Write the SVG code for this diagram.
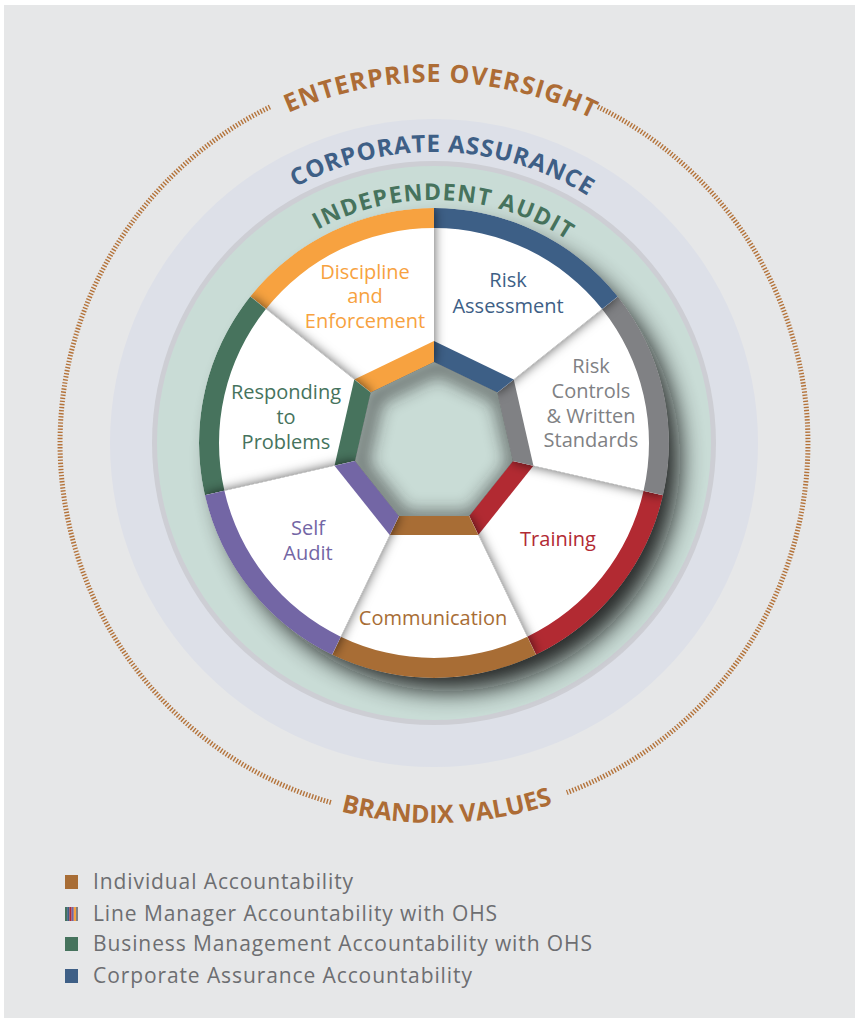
<svg xmlns="http://www.w3.org/2000/svg" xmlns:xlink="http://www.w3.org/1999/xlink" width="855" height="1018" viewBox="0 0 855 1018">
<style>
.arc{font-family:"Open Sans","Liberation Sans",sans-serif;font-weight:700}
.lbl{font-family:"Open Sans","Liberation Sans",sans-serif;font-size:20px;text-anchor:middle}
.leg{font-family:"Open Sans","Liberation Sans",sans-serif;font-size:21px;fill:#6d6e71;letter-spacing:0.9px}
.white{fill:#ffffff}
.dots{fill:none;stroke:#b4733a;stroke-width:5;stroke-dasharray:1.4 1.7}
</style>
<defs>
<filter id="wheelShadow" x="-30%" y="-30%" width="160%" height="160%"><feGaussianBlur stdDeviation="12"/></filter>
<filter id="segShadow" x="-30%" y="-30%" width="160%" height="160%"><feDropShadow dx="0" dy="0" stdDeviation="6" flood-color="#000" flood-opacity="0.65"/></filter>
<filter id="blur8" x="-30%" y="-30%" width="160%" height="160%"><feGaussianBlur stdDeviation="8"/></filter>
<clipPath id="wheelClip"><path clip-rule="evenodd" d="M199,443 A235,235 0 1 1 669,443 A235,235 0 1 1 199,443 Z M434,362 L497.33,392.5 L512.97,461.02 L469.15,515.98 L398.85,515.98 L355.03,461.02 L370.67,392.5 Z"/></clipPath>
<clipPath id="heptClip"><polygon points="434,362 497.33,392.5 512.97,461.02 469.15,515.98 398.85,515.98 355.03,461.02 370.67,392.5"/></clipPath>
<path id="tpEnt" d="M73,443 A361,361 0 0 1 795,443"/>
<path id="tpCorp" d="M143,443 A291,291 0 0 1 725,443"/>
<path id="tpInd" d="M191,443 A243,243 0 0 1 677,443"/>
<path id="tpBrx" d="M54,443 A380,380 0 0 0 814,443"/>
</defs>
<rect x="0" y="0" width="855" height="1018" fill="#ffffff"/>
<rect x="4" y="5" width="851" height="1013" fill="#e6e7e8"/>

<g id="rings">
<circle cx="434" cy="443" r="324" fill="#dde0e8"/>
<circle cx="434" cy="443" r="282" fill="#cdced4"/>
<circle cx="434" cy="443" r="277" fill="#c9dcd6"/>
</g>

<g id="enterprise-oversight">
<path class="dots" d="M597.95,106.87 A374,374 0 0 1 566.8,792.6"/>
<path class="dots" d="M330.9,802.5 A374,374 0 0 1 270.05,106.87"/>
<text class="arc" font-size="25" fill="#ad6c35" letter-spacing="1" text-anchor="middle"><textPath xlink:href="#tpEnt" href="#tpEnt" startOffset="574">ENTERPRISE OVERSIGHT</textPath></text>
<text class="arc" font-size="25" fill="#ad6c35" letter-spacing="0" text-anchor="middle"><textPath xlink:href="#tpBrx" href="#tpBrx" startOffset="610">BRANDIX VALUES</textPath></text>
</g>

<g id="corporate-assurance">
<text class="arc" font-size="24" fill="#3e5f86" letter-spacing="0.8" text-anchor="middle"><textPath xlink:href="#tpCorp" href="#tpCorp" startOffset="466">CORPORATE ASSURANCE</textPath></text>
</g>

<g id="independent-audit">
<text class="arc" font-size="23" fill="#46735d" letter-spacing="1.3" text-anchor="middle"><textPath xlink:href="#tpInd" href="#tpInd" startOffset="392">INDEPENDENT AUDIT</textPath></text>
</g>

<circle id="wheel-shadow" cx="448" cy="459" r="232" fill="#111" opacity="0.88" filter="url(#wheelShadow)"/>

<g id="center">
<polygon points="434,362 497.33,392.5 512.97,461.02 469.15,515.98 398.85,515.98 355.03,461.02 370.67,392.5" fill="#c9dcd6"/>
<g clip-path="url(#heptClip)">
<polygon points="434,362 497.33,392.5 512.97,461.02 469.15,515.98 398.85,515.98 355.03,461.02 370.67,392.5" fill="none" stroke="#222" stroke-width="20" opacity="0.5" filter="url(#blur8)" transform="translate(4,4)"/>
</g>
</g>

<g id="wheel" clip-path="url(#wheelClip)">
<g id="training">
<g filter="url(#segShadow)">
<path class="white" d="M512.97,461.02 L663.11,495.29 A235,235 0 0 1 535.96,654.73 L469.15,515.98 Z"/>
<path fill="#b22a33" d="M663.11,495.29 A235,235 0 0 1 535.96,654.73 L527.28,636.71 A215,215 0 0 0 643.61,490.84 Z"/>
<path fill="#b22a33" d="M512.97,461.02 L533.44,465.7 L478.26,534.9 L469.15,515.98 Z"/>
</g>
<text class="lbl" fill="#b22a33" x="558" y="546">Training</text>
</g>
<g id="risk-controls">
<g filter="url(#segShadow)">
<path class="white" d="M497.33,392.5 L617.73,296.48 A235,235 0 0 1 663.11,495.29 L512.97,461.02 Z"/>
<path fill="#808184" d="M617.73,296.48 A235,235 0 0 1 663.11,495.29 L643.61,490.84 A215,215 0 0 0 602.09,308.95 Z"/>
<path fill="#808184" d="M497.33,392.5 L513.75,379.4 L533.44,465.7 L512.97,461.02 Z"/>
</g>
<text class="lbl" fill="#808184"><tspan x="591" y="373">Risk</tspan><tspan x="591" y="398">Controls</tspan><tspan x="591" y="423">&amp; Written</tspan><tspan x="591" y="447">Standards</tspan></text>
</g>
<g id="risk-assessment">
<g filter="url(#segShadow)">
<path class="white" d="M434,362 L434,208 A235,235 0 0 1 617.73,296.48 L497.33,392.5 Z"/>
<path fill="#3e5f86" d="M434,208 A235,235 0 0 1 617.73,296.48 L602.09,308.95 A215,215 0 0 0 434,228 Z"/>
<path fill="#3e5f86" d="M434,362 L434,341 L513.75,379.4 L497.33,392.5 Z"/>
</g>
<text class="lbl" fill="#3e5f86"><tspan x="508" y="287">Risk</tspan><tspan x="508" y="313">Assessment</tspan></text>
</g>
<g id="discipline">
<g filter="url(#segShadow)">
<path class="white" d="M370.67,392.5 L250.27,296.48 A235,235 0 0 1 434,208 L434,362 Z"/>
<path fill="#f7a23f" d="M250.27,296.48 A235,235 0 0 1 434,208 L434,228 A215,215 0 0 0 265.91,308.95 Z"/>
<path fill="#f7a23f" d="M370.67,392.5 L354.25,379.4 L434,341 L434,362 Z"/>
</g>
<text class="lbl" fill="#f7a23f"><tspan x="365" y="279">Discipline</tspan><tspan x="365" y="303">and</tspan><tspan x="365" y="328">Enforcement</tspan></text>
</g>
<g id="responding">
<g filter="url(#segShadow)">
<path class="white" d="M355.03,461.02 L204.89,495.29 A235,235 0 0 1 250.27,296.48 L370.67,392.5 Z"/>
<path fill="#46735d" d="M204.89,495.29 A235,235 0 0 1 250.27,296.48 L265.91,308.95 A215,215 0 0 0 224.39,490.84 Z"/>
<path fill="#46735d" d="M355.03,461.02 L334.56,465.7 L354.25,379.4 L370.67,392.5 Z"/>
</g>
<text class="lbl" fill="#46735d"><tspan x="286" y="399">Responding</tspan><tspan x="286" y="424">to</tspan><tspan x="286" y="449">Problems</tspan></text>
</g>
<g id="communication">
<g filter="url(#segShadow)">
<path class="white" d="M469.15,515.98 L535.96,654.73 A235,235 0 0 1 332.04,654.73 L398.85,515.98 Z"/>
<path fill="#a86d35" d="M535.96,654.73 A235,235 0 0 1 332.04,654.73 L340.72,636.71 A215,215 0 0 0 527.28,636.71 Z"/>
<path fill="#a86d35" d="M469.15,515.98 L478.26,534.9 L389.74,534.9 L398.85,515.98 Z"/>
</g>
<text class="lbl" fill="#a86d35" x="433" y="625">Communication</text>
</g>
<g id="self-audit">
<g filter="url(#segShadow)">
<path class="white" d="M398.85,515.98 L332.04,654.73 A235,235 0 0 1 204.89,495.29 L355.03,461.02 Z"/>
<path fill="#7366a5" d="M332.04,654.73 A235,235 0 0 1 204.89,495.29 L224.39,490.84 A215,215 0 0 0 340.72,636.71 Z"/>
<path fill="#7366a5" d="M398.85,515.98 L389.74,534.9 L334.56,465.7 L355.03,461.02 Z"/>
</g>
<text class="lbl" fill="#7366a5"><tspan x="308" y="535">Self</tspan><tspan x="308" y="560">Audit</tspan></text>
</g>
</g>

<g id="legend">
<g id="legend-individual">
<rect x="65" y="875" width="13" height="14" fill="#a86d35"/>
<text class="leg" x="93" y="889">Individual Accountability</text>
</g>
<g id="legend-line-manager">
<rect x="65" y="907" width="2.2" height="14" fill="#46735d"/>
<rect x="67.2" y="907" width="2.2" height="14" fill="#3e5f86"/>
<rect x="69.4" y="907" width="2.2" height="14" fill="#b22a33"/>
<rect x="71.6" y="907" width="2.2" height="14" fill="#7366a5"/>
<rect x="73.8" y="907" width="2.2" height="14" fill="#f7a23f"/>
<rect x="76" y="907" width="2" height="14" fill="#808184"/>
<text class="leg" x="93" y="921">Line Manager Accountability with OHS</text>
</g>
<g id="legend-business">
<rect x="65" y="937" width="13" height="14" fill="#46735d"/>
<text class="leg" x="93" y="951">Business Management Accountability with OHS</text>
</g>
<g id="legend-corporate">
<rect x="65" y="969" width="13" height="14" fill="#3e5f86"/>
<text class="leg" x="93" y="983">Corporate Assurance Accountability</text>
</g>
</g>
</svg>
